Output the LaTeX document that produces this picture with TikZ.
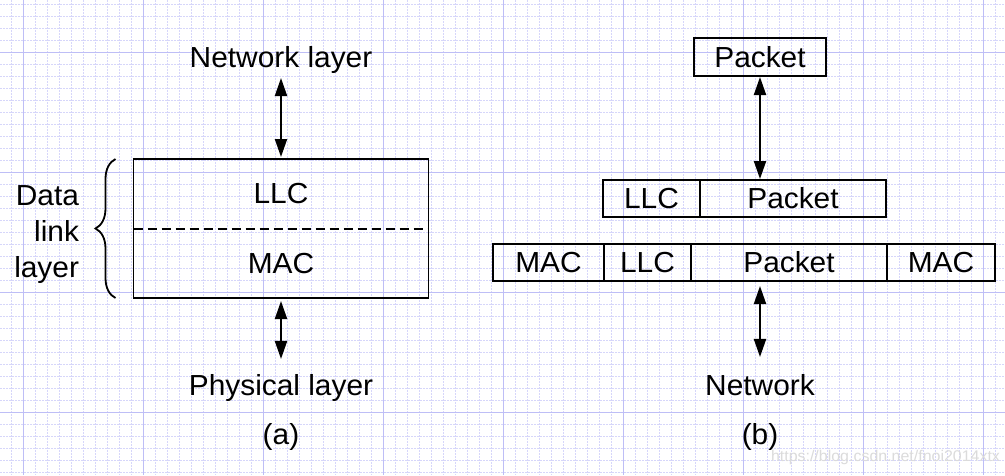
\documentclass[tikz,border=0pt]{standalone}
\usepackage{fontspec}
\setmainfont{Liberation Sans}[FakeStretch=1.03]
\usepackage{tikz}
\usetikzlibrary{arrows.meta,positioning,decorations.pathreplacing}
\definecolor{gridminor}{RGB}{214,214,250}
\definecolor{gridmajor}{RGB}{190,190,246}
\tikzset{main node/.style={draw,rectangle,line width=1.8pt,inner sep=0pt,outer sep=0pt,
		minimum height=37pt,font=\fontsize{29}{36}\selectfont},
}

\begin{document}
\begin{tikzpicture}[x=1pt,y=-1pt,>={Triangle[length=18pt,width=12pt]},line width=2pt,
		lbl/.style={font=\fontsize{29}{36}\selectfont,inner sep=0pt,anchor=base},
		grid minor/.style={draw=gridminor,line width=0.8pt,dash pattern=on 2pt off 1pt},
		grid major/.style={draw=gridmajor,line width=1pt}]
		
		\useasboundingbox (0,0) rectangle (1005,475);
		\fill[white] (0,0) rectangle (1005,475);
		\foreach \x in {11,23,...,1003} \draw[grid minor] (\x,0) -- (\x,475);
		\foreach \y in {4,16,...,472} \draw[grid minor] (0,\y) -- (1005,\y);
		\foreach \x in {23,143,...,983} \draw[grid major] (\x,0) -- (\x,475);
		\foreach \y in {52,172,...,412} \draw[grid major] (0,\y) -- (1005,\y);
		
		% (a)
		\node[lbl] (netlayer) at (281,67) {Network layer};
		\node[main node,minimum width=295pt,minimum height=139pt] (dll) at (281,228.5) {};
		\node[lbl] (llc) at (281,203) {LLC};
		\node[lbl] (mac) at (281,273) {MAC};
		\node[lbl,align=right,anchor=east] (dlltext) at (80,234.6) {Data\\link\\layer};
		\node[lbl] (phys) at (281,395) {Physical layer};
		\node[lbl] (capa) at (281,444) {(a)};
		
		\draw[line width=2pt,dash pattern=on 9pt off 5pt] (dll.west) -- (dll.east);
		\draw[line width=1.8pt,decorate,decoration={brace,amplitude=20pt}]
		([xshift=-18pt]dll.south west) -- ([xshift=-18pt]dll.north west);
		\draw[<->,shorten <=4pt,shorten >=2pt] (netlayer.south) -- (dll.north);
		\draw[<->,shorten <=3pt,shorten >=14pt] (dll.south) -- (phys.north);
		
		% (b)
		\node[main node,minimum width=132pt,minimum height=38pt] (pkt) at (760,57) {Packet};
		\node[main node,minimum width=97pt] (llcb) at (651.5,198.5) {LLC};
		\node[main node,minimum width=186pt,right=0pt of llcb] (pktb) {Packet};
		\node[main node,minimum width=111pt] (macl) at (548.5,262.5) {MAC};
		\node[main node,minimum width=87pt,right=0pt of macl] (llcc) {LLC};
		\node[main node,minimum width=196pt,right=0pt of llcc] (pktc) {Packet};
		\node[main node,minimum width=108pt,right=0pt of pktc] (macr) {MAC};
		\node[lbl] (netw) at (760,395) {Network};
		\node[lbl] (capb) at (760,444) {(b)};
		
		\draw[<->,shorten <=1pt,shorten >=1pt] (pkt.south) -- (pkt.south |- pktb.north);
		\draw[<->,shorten <=5pt,shorten >=16pt] (pkt.south |- pktc.south) -- (netw.north);
		
		\node[font=\fontsize{15.5}{18}\selectfont,text=black!14,anchor=base west,inner sep=0pt]
		(wm) at (770,461) {https://blog.csdn.net/fnoi2014xtx};
		
\end{tikzpicture}
\end{document}
